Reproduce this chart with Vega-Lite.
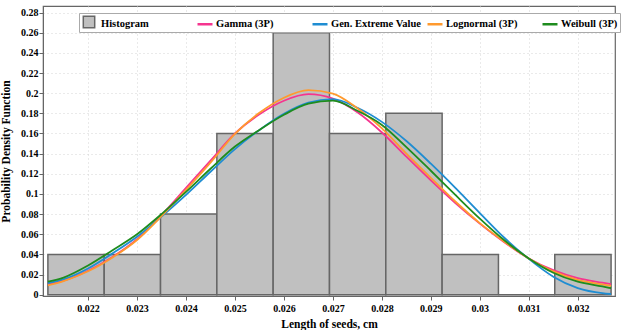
{
  "$schema": "https://vega.github.io/schema/vega-lite/v6.json",
  "width": 572,
  "height": 290,
  "autosize": {"type": "none"},
  "padding": {"left": 43, "top": 6, "right": 8, "bottom": 34},
  "background": "white",
  "config": {
    "view": {"stroke": "#666666", "strokeWidth": 1.2},
    "font": "Liberation Serif",
    "axis": {
      "labelFont": "Liberation Serif", "labelFontWeight": "bold", "labelFontSize": 10, "labelColor": "#000000",
      "titleFont": "Liberation Serif", "titleFontWeight": "bold", "titleFontSize": 11.5, "titleColor": "#000000",
      "domainColor": "#666666", "tickColor": "#666666", "tickSize": 4,
      "gridColor": "#d4d4d4", "gridDash": [1, 3], "gridWidth": 1
    },
    "legend": {
      "labelFont": "Liberation Serif", "labelFontWeight": "bold", "labelFontSize": 10.5, "labelColor": "#000000"
    }
  },
  "datasets": {
    "hist": [
      {"start": 0.02118, "end": 0.02233, "density": 0.04, "series": "Histogram"},
      {"start": 0.02233, "end": 0.02348, "density": 0.04, "series": "Histogram"},
      {"start": 0.02348, "end": 0.02463, "density": 0.08, "series": "Histogram"},
      {"start": 0.02463, "end": 0.02578, "density": 0.16, "series": "Histogram"},
      {"start": 0.02578, "end": 0.02693, "density": 0.26, "series": "Histogram"},
      {"start": 0.02693, "end": 0.02808, "density": 0.16, "series": "Histogram"},
      {"start": 0.02808, "end": 0.02923, "density": 0.18, "series": "Histogram"},
      {"start": 0.02923, "end": 0.03038, "density": 0.04, "series": "Histogram"},
      {"start": 0.03038, "end": 0.03153, "density": 0.0, "series": "Histogram"},
      {"start": 0.03153, "end": 0.03268, "density": 0.04, "series": "Histogram"}
    ],
    "curves": [
      {"series": "Gamma (3P)", "x": 0.02118, "y": 0.0103},
      {"series": "Gamma (3P)", "x": 0.0215, "y": 0.0140},
      {"series": "Gamma (3P)", "x": 0.0220, "y": 0.0238},
      {"series": "Gamma (3P)", "x": 0.0225, "y": 0.0375},
      {"series": "Gamma (3P)", "x": 0.0230, "y": 0.0550},
      {"series": "Gamma (3P)", "x": 0.0235, "y": 0.0790},
      {"series": "Gamma (3P)", "x": 0.0240, "y": 0.1060},
      {"series": "Gamma (3P)", "x": 0.0245, "y": 0.1330},
      {"series": "Gamma (3P)", "x": 0.0250, "y": 0.1600},
      {"series": "Gamma (3P)", "x": 0.0255, "y": 0.1790},
      {"series": "Gamma (3P)", "x": 0.0260, "y": 0.1925},
      {"series": "Gamma (3P)", "x": 0.0265, "y": 0.1990},
      {"series": "Gamma (3P)", "x": 0.0270, "y": 0.1945},
      {"series": "Gamma (3P)", "x": 0.0275, "y": 0.1810},
      {"series": "Gamma (3P)", "x": 0.0280, "y": 0.1610},
      {"series": "Gamma (3P)", "x": 0.0285, "y": 0.1370},
      {"series": "Gamma (3P)", "x": 0.0290, "y": 0.1135},
      {"series": "Gamma (3P)", "x": 0.0295, "y": 0.0910},
      {"series": "Gamma (3P)", "x": 0.0300, "y": 0.0705},
      {"series": "Gamma (3P)", "x": 0.0305, "y": 0.0520},
      {"series": "Gamma (3P)", "x": 0.0310, "y": 0.0360},
      {"series": "Gamma (3P)", "x": 0.0315, "y": 0.0243},
      {"series": "Gamma (3P)", "x": 0.0320, "y": 0.0164},
      {"series": "Gamma (3P)", "x": 0.0325, "y": 0.0119},
      {"series": "Gamma (3P)", "x": 0.03268, "y": 0.0104},

      {"series": "Gen. Extreme Value", "x": 0.02118, "y": 0.0116},
      {"series": "Gen. Extreme Value", "x": 0.0215, "y": 0.0152},
      {"series": "Gen. Extreme Value", "x": 0.0220, "y": 0.0260},
      {"series": "Gen. Extreme Value", "x": 0.0225, "y": 0.0410},
      {"series": "Gen. Extreme Value", "x": 0.0230, "y": 0.0575},
      {"series": "Gen. Extreme Value", "x": 0.0235, "y": 0.0775},
      {"series": "Gen. Extreme Value", "x": 0.0240, "y": 0.0990},
      {"series": "Gen. Extreme Value", "x": 0.0245, "y": 0.1220},
      {"series": "Gen. Extreme Value", "x": 0.0250, "y": 0.1445},
      {"series": "Gen. Extreme Value", "x": 0.0255, "y": 0.1635},
      {"series": "Gen. Extreme Value", "x": 0.0260, "y": 0.1795},
      {"series": "Gen. Extreme Value", "x": 0.0265, "y": 0.1905},
      {"series": "Gen. Extreme Value", "x": 0.0270, "y": 0.1940},
      {"series": "Gen. Extreme Value", "x": 0.0275, "y": 0.1855},
      {"series": "Gen. Extreme Value", "x": 0.0280, "y": 0.1715},
      {"series": "Gen. Extreme Value", "x": 0.0285, "y": 0.1525},
      {"series": "Gen. Extreme Value", "x": 0.0290, "y": 0.1300},
      {"series": "Gen. Extreme Value", "x": 0.0295, "y": 0.1060},
      {"series": "Gen. Extreme Value", "x": 0.0300, "y": 0.0810},
      {"series": "Gen. Extreme Value", "x": 0.0305, "y": 0.0565},
      {"series": "Gen. Extreme Value", "x": 0.0310, "y": 0.0355},
      {"series": "Gen. Extreme Value", "x": 0.0315, "y": 0.0178},
      {"series": "Gen. Extreme Value", "x": 0.0320, "y": 0.0065},
      {"series": "Gen. Extreme Value", "x": 0.0325, "y": 0.0015},
      {"series": "Gen. Extreme Value", "x": 0.03268, "y": 0.0007},

      {"series": "Lognormal (3P)", "x": 0.02118, "y": 0.0093},
      {"series": "Lognormal (3P)", "x": 0.0215, "y": 0.0135},
      {"series": "Lognormal (3P)", "x": 0.0220, "y": 0.0232},
      {"series": "Lognormal (3P)", "x": 0.0225, "y": 0.0370},
      {"series": "Lognormal (3P)", "x": 0.0230, "y": 0.0543},
      {"series": "Lognormal (3P)", "x": 0.0235, "y": 0.0780},
      {"series": "Lognormal (3P)", "x": 0.0240, "y": 0.1040},
      {"series": "Lognormal (3P)", "x": 0.0245, "y": 0.1310},
      {"series": "Lognormal (3P)", "x": 0.0250, "y": 0.1595},
      {"series": "Lognormal (3P)", "x": 0.0255, "y": 0.1805},
      {"series": "Lognormal (3P)", "x": 0.0260, "y": 0.1955},
      {"series": "Lognormal (3P)", "x": 0.0265, "y": 0.2030},
      {"series": "Lognormal (3P)", "x": 0.0270, "y": 0.1995},
      {"series": "Lognormal (3P)", "x": 0.0275, "y": 0.1850},
      {"series": "Lognormal (3P)", "x": 0.0280, "y": 0.1650},
      {"series": "Lognormal (3P)", "x": 0.0285, "y": 0.1400},
      {"series": "Lognormal (3P)", "x": 0.0290, "y": 0.1160},
      {"series": "Lognormal (3P)", "x": 0.0295, "y": 0.0925},
      {"series": "Lognormal (3P)", "x": 0.0300, "y": 0.0710},
      {"series": "Lognormal (3P)", "x": 0.0305, "y": 0.0525},
      {"series": "Lognormal (3P)", "x": 0.0310, "y": 0.0360},
      {"series": "Lognormal (3P)", "x": 0.0315, "y": 0.0232},
      {"series": "Lognormal (3P)", "x": 0.0320, "y": 0.0148},
      {"series": "Lognormal (3P)", "x": 0.0325, "y": 0.0102},
      {"series": "Lognormal (3P)", "x": 0.03268, "y": 0.0088},

      {"series": "Weibull (3P)", "x": 0.02118, "y": 0.0129},
      {"series": "Weibull (3P)", "x": 0.0215, "y": 0.0170},
      {"series": "Weibull (3P)", "x": 0.0220, "y": 0.0290},
      {"series": "Weibull (3P)", "x": 0.0225, "y": 0.0442},
      {"series": "Weibull (3P)", "x": 0.0230, "y": 0.0600},
      {"series": "Weibull (3P)", "x": 0.0235, "y": 0.0800},
      {"series": "Weibull (3P)", "x": 0.0240, "y": 0.1020},
      {"series": "Weibull (3P)", "x": 0.0245, "y": 0.1250},
      {"series": "Weibull (3P)", "x": 0.0250, "y": 0.1470},
      {"series": "Weibull (3P)", "x": 0.0255, "y": 0.1635},
      {"series": "Weibull (3P)", "x": 0.0260, "y": 0.1785},
      {"series": "Weibull (3P)", "x": 0.0265, "y": 0.1895},
      {"series": "Weibull (3P)", "x": 0.0270, "y": 0.1925},
      {"series": "Weibull (3P)", "x": 0.0275, "y": 0.1825},
      {"series": "Weibull (3P)", "x": 0.0280, "y": 0.1685},
      {"series": "Weibull (3P)", "x": 0.0285, "y": 0.1465},
      {"series": "Weibull (3P)", "x": 0.0290, "y": 0.1230},
      {"series": "Weibull (3P)", "x": 0.0295, "y": 0.0990},
      {"series": "Weibull (3P)", "x": 0.0300, "y": 0.0755},
      {"series": "Weibull (3P)", "x": 0.0305, "y": 0.0540},
      {"series": "Weibull (3P)", "x": 0.0310, "y": 0.0360},
      {"series": "Weibull (3P)", "x": 0.0315, "y": 0.0218},
      {"series": "Weibull (3P)", "x": 0.0320, "y": 0.0129},
      {"series": "Weibull (3P)", "x": 0.0325, "y": 0.0082},
      {"series": "Weibull (3P)", "x": 0.03268, "y": 0.0064}
    ]
  },
  "layer": [
    {
      "data": {"name": "hist"},
      "mark": {"type": "bar", "stroke": "#666666", "strokeWidth": 1.5, "fillOpacity": 1},
      "encoding": {
        "x": {
          "field": "start", "type": "quantitative",
          "scale": {"domain": [0.02108, 0.03276], "nice": false, "zero": false},
          "axis": {
            "title": "Length of seeds, cm",
            "values": [0.022, 0.023, 0.024, 0.025, 0.026, 0.027, 0.028, 0.029, 0.03, 0.031, 0.032],
            "format": "~g", "labelPadding": 3, "titlePadding": 5, "labelOverlap": false
          }
        },
        "x2": {"field": "end"},
        "y": {
          "field": "density", "type": "quantitative",
          "scale": {"domain": [-0.0013, 0.2865], "nice": false, "zero": false},
          "axis": {
            "title": "Probability Density Function",
            "values": [0, 0.02, 0.04, 0.06, 0.08, 0.1, 0.12, 0.14, 0.16, 0.18, 0.2, 0.22, 0.24, 0.26, 0.28],
            "format": "~g", "labelPadding": 1, "titlePadding": 9, "labelOverlap": false
          }
        },
        "y2": {"datum": 0},
        "fill": {
          "field": "series", "type": "nominal",
          "scale": {"domain": ["Histogram"], "range": ["#c0c0c0"]},
          "legend": {
            "orient": "none", "legendX": 37.5, "legendY": 7.5, "zindex": 5,
            "direction": "horizontal", "title": null, "padding": 2,
            "symbolType": "square", "symbolSize": 130, "symbolStrokeColor": "#666666", "symbolStrokeWidth": 1.5,
            "symbolFillColor": "#c0c0c0", "symbolOpacity": 1,
            "labelExpr": "''", "labelOffset": 0
          }
        }
      }
    },
    {
      "data": {"name": "curves"},
      "mark": {"type": "line", "strokeWidth": 1.8, "interpolate": "monotone", "clip": true},
      "encoding": {
        "x": {
          "field": "x", "type": "quantitative",
          "axis": {
            "title": "Length of seeds, cm",
            "values": [0.022, 0.023, 0.024, 0.025, 0.026, 0.027, 0.028, 0.029, 0.03, 0.031, 0.032],
            "format": "~g", "labelPadding": 3, "titlePadding": 5, "labelOverlap": false
          }
        },
        "y": {
          "field": "y", "type": "quantitative",
          "axis": {
            "title": "Probability Density Function",
            "values": [0, 0.02, 0.04, 0.06, 0.08, 0.1, 0.12, 0.14, 0.16, 0.18, 0.2, 0.22, 0.24, 0.26, 0.28],
            "format": "~g", "labelPadding": 1, "titlePadding": 9, "labelOverlap": false
          }
        },
        "color": {
          "field": "series", "type": "nominal",
          "scale": {
            "domain": ["Histogram", "Gamma (3P)", "Gen. Extreme Value", "Lognormal (3P)", "Weibull (3P)"],
            "range": ["transparent", "#f5358f", "#1f8dd2", "#ff9a2e", "#1e8c1e"]
          },
          "legend": {
            "orient": "none", "legendX": 36, "legendY": 7, "zindex": 1,
            "direction": "horizontal", "columns": 5, "gridAlign": "all",
            "title": null,
            "fillColor": "white", "strokeColor": "#aaaaaa", "padding": 2,
            "symbolType": "stroke", "symbolSize": 225, "symbolStrokeWidth": 2.5,
            "columnPadding": 0, "labelOffset": 2
          }
        }
      }
    }
  ]
}
